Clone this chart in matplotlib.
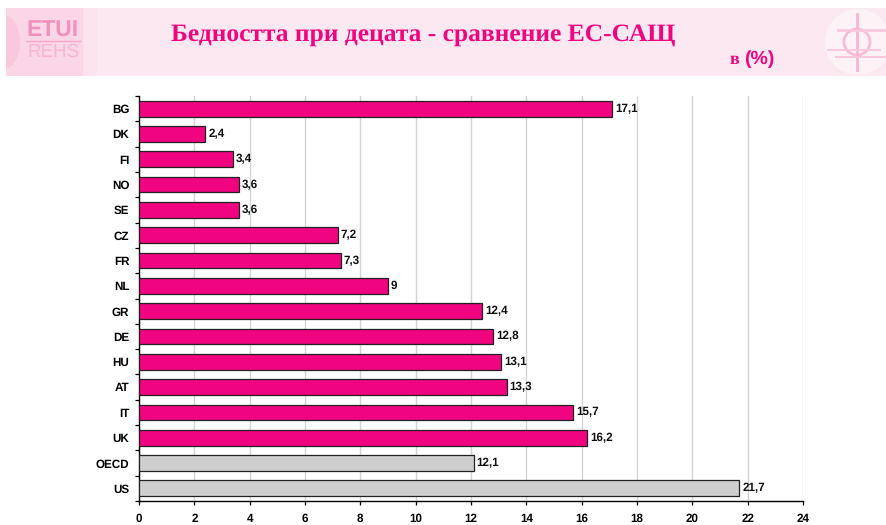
""" Child poverty bar chart, EU vs US. """

import matplotlib
matplotlib.use("Agg")
import matplotlib.pyplot as plt
from matplotlib.patches import Rectangle, Ellipse, Circle

W, H = 886, 525

countries = ["BG", "DK", "FI", "NO", "SE", "CZ", "FR", "NL", "GR", "DE", "HU", "AT", "IT", "UK", "OECD", "US"]
poverty = [17.1, 2.4, 3.4, 3.6, 3.6, 7.2, 7.3, 9, 12.4, 12.8, 13.1, 13.3, 15.7, 16.2, 12.1, 21.7]
grey_bars = ["OECD", "US"]
x_ticks = list(range(0, 25, 2))

PINK = "#f0047f"
GREY = "#cfcfcf"

plt.rcParams["font.family"] = ["Liberation Sans", "DejaVu Sans"]
plt.rcParams["text.hinting"] = "none"

fig = plt.figure(figsize=(W / 100, H / 100), dpi=100)

# banner drawn in pixel coordinates
bg = fig.add_axes([0, 0, 1, 1])
bg.set_xlim(0, W)
bg.set_ylim(H, 0)
bg.axis("off")
bg.add_patch(Rectangle((6, 8), 880, 68, color="#fce8f0", lw=0))
bg.add_patch(Rectangle((6, 8), 77, 68, color="#fbd6e6", lw=0))
bg.add_patch(Rectangle((83, 8), 14, 68, color="#fbe4ee", lw=0))
logo_clip = Rectangle((6, 8), 77, 68, transform=bg.transData)
curve = Ellipse((4, 42), 32, 54, color="#f9c8de", lw=0)
bg.add_patch(curve)
curve.set_clip_path(logo_clip)
bg.text(26, 31, "ETUI", fontsize=16.5, fontweight="bold", color="#f291bd", va="center")
bg.plot([26, 80], [41, 41], color="#f6a6c9", lw=1)
bg.text(27, 52, "REHS", fontsize=13.5, color="#f8b4d2", va="center")
bg.add_patch(Circle((858, 42), 33, color="#fdf3f7", lw=0))
bg.add_patch(Circle((857, 42), 13, fill=False, ec="#f8bcd6", lw=2))
bg.plot([857, 857], [14, 70], color="#f8b4d2", lw=2)
bg.plot([838, 886], [30, 30], color="#f9c8dd", lw=2)
bg.plot([828, 880], [50, 50], color="#f9c8dd", lw=1.5)
bg.plot([836, 886], [57, 57], color="#f9c8dd", lw=1.5)
bg.text(423.5, 34.5, "Бедността при децата - сравнение ЕС-САЩ", fontsize=18.35, fontweight="bold",
        family="Liberation Serif", color=PINK, ha="center", va="center")
bg.text(730, 60, "в", fontsize=13, fontweight="bold", family="Liberation Serif",
        color=PINK, ha="left", va="center")
bg.text(744, 59.5, "(%)", fontsize=14, fontweight="bold", color=PINK, ha="left", va="center")

ax = fig.add_axes([139 / W, 1 - 501 / H, (803 - 139) / W, (501 - 96) / H])
positions = range(len(countries))
colors = [GREY if c in grey_bars else PINK for c in countries]
ax.barh(positions, poverty, height=0.62, color=colors, edgecolor="#222222", linewidth=0.9, zorder=3)

for pos, val in zip(positions, poverty):
    label = str(val).replace(".", ",")
    ax.text(val + 0.1, pos, label, fontsize=8.4, fontweight="bold", color="#111111", va="center", zorder=4)

ax.set_xlim(0, 24)
ax.set_ylim(len(countries) - 0.5, -0.5)
ax.set_xticks(x_ticks)
ax.set_yticks(list(positions))
ax.set_yticklabels(countries)
ax.set_yticks([p - 0.5 for p in range(len(countries) + 1)], minor=True)
ax.grid(axis="x", color="#d4d4d4", lw=1, zorder=0)
ax.set_axisbelow(True)
ax.spines["top"].set_visible(False)
ax.spines["right"].set_visible(False)
ax.spines["left"].set_linewidth(1)
ax.spines["bottom"].set_linewidth(1)
ax.tick_params(axis="y", which="major", length=0, pad=7, labelsize=8.4)
ax.tick_params(axis="y", which="minor", length=3, width=0.9)
ax.tick_params(axis="x", length=3, width=0.9, pad=6, labelsize=8.4)
for lab in ax.get_xticklabels() + ax.get_yticklabels():
    lab.set_fontweight("bold")

fig.savefig("out.png", dpi=100)
